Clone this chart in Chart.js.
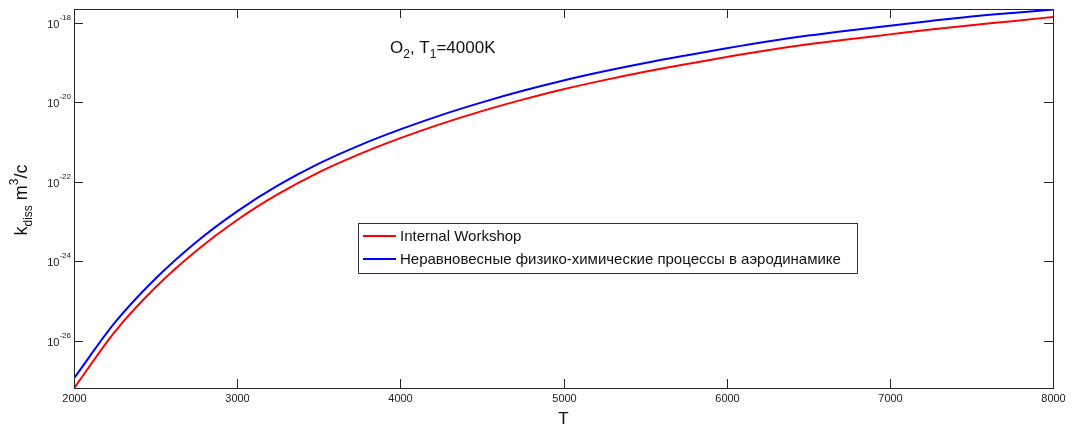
<!DOCTYPE html>
<html>
<head>
<meta charset="utf-8">
<script src="https://cdn.jsdelivr.net/npm/chart.js@4.4.1/dist/chart.umd.min.js"></script>
<style>
  html, body { margin: 0; padding: 0; background: #ffffff; }
  #wrap { width: 1075px; height: 428px; }
</style>
</head>
<body>
<div id="wrap"><canvas id="c" width="1075" height="428"></canvas></div>
<script>
// ---- data ----
const temps = [2000, 2250, 2500, 2750, 3000, 3250, 3500, 3750, 4000, 4250, 4500, 4750, 5000,
               5250, 5500, 5750, 6000, 6250, 6500, 6750, 7000, 7250, 7500, 7750, 8000];
const internalWorkshop = [6.46e-28, 1.70e-26, 2.24e-25, 1.86e-24, 1.10e-23, 4.90e-23, 1.74e-22,
                          5.01e-22, 1.26e-21, 2.88e-21, 6.03e-21, 1.17e-20, 2.14e-20, 3.63e-20,
                          5.89e-20, 9.12e-20, 1.38e-19, 2.04e-19, 2.88e-19, 3.89e-19, 5.13e-19,
                          6.76e-19, 8.71e-19, 1.10e-18, 1.41e-18];
const nonequilibrium = [1.15e-27, 2.88e-26, 3.72e-25, 3.09e-24, 1.82e-23, 8.13e-23, 2.88e-22,
                        8.32e-22, 2.09e-21, 4.79e-21, 1.00e-20, 1.95e-20, 3.55e-20, 6.03e-20,
                        9.77e-20, 1.51e-19, 2.29e-19, 3.39e-19, 4.79e-19, 6.46e-19, 8.51e-19,
                        1.12e-18, 1.45e-18, 1.78e-18, 2.16e-18];
const seriesLabels = ['Internal Workshop', 'Неравновесные физико-химические процессы в аэродинамике'];
const xTicks = [2000, 3000, 4000, 5000, 6000, 7000, 8000];
const yTickExponents = [-18, -20, -22, -24, -26];

const FONT = '"Liberation Sans", Arial, sans-serif';

const decorPlugin = {
  id: 'decor',
  afterDraw(chart) {
    const ctx = chart.ctx;
    const a = chart.chartArea;
    const xs = chart.scales.x, ys = chart.scales.y;
    ctx.save();
    // frame
    ctx.strokeStyle = '#262626';
    ctx.lineWidth = 1;
    ctx.strokeRect(Math.round(a.left) + 0.5, Math.round(a.top) + 0.5,
                   Math.round(a.right - a.left), Math.round(a.bottom - a.top));
    const tl = 9;
    // x ticks
    ctx.fillStyle = '#222';
    ctx.font = '11px ' + FONT;
    ctx.textAlign = 'center';
    ctx.textBaseline = 'middle';
    xTicks.forEach(v => {
      const px = Math.round(xs.getPixelForValue(v)) + 0.5;
      ctx.beginPath();
      ctx.moveTo(px, a.bottom); ctx.lineTo(px, a.bottom - tl);
      ctx.moveTo(px, a.top); ctx.lineTo(px, a.top + tl);
      ctx.stroke();
      ctx.fillText(String(v), px, 399);
    });
    // y ticks
    yTickExponents.forEach(e => {
      const py = Math.round(ys.getPixelForValue(Math.pow(10, e))) + 0.5;
      ctx.beginPath();
      ctx.moveTo(a.left, py); ctx.lineTo(a.left + tl, py);
      ctx.moveTo(a.right, py); ctx.lineTo(a.right - tl, py);
      ctx.stroke();
      const sup = String(e);
      ctx.textAlign = 'right';
      ctx.font = '8px ' + FONT;
      const supW = ctx.measureText(sup).width;
      ctx.textBaseline = 'alphabetic';
      ctx.fillText(sup, 71, py - 4);
      ctx.font = '11px ' + FONT;
      ctx.textBaseline = 'middle';
      ctx.fillText('10', 71 - supW, py + 1);
    });
    // x title
    ctx.textAlign = 'center';
    ctx.textBaseline = 'middle';
    ctx.font = '17px ' + FONT;
    ctx.fillStyle = '#111';
    ctx.fillText('T', (a.left + a.right) / 2, 419);

    // y title (rotated) : k_diss m^3/c
    ctx.save();
    ctx.translate(27, 200);
    ctx.rotate(-Math.PI / 2);
    const parts = [
      {t: 'k', f: 18, dy: 0},
      {t: 'diss', f: 12, dy: 5},
      {t: ' m', f: 18, dy: 0},
      {t: '3', f: 12, dy: -9},
      {t: '/c', f: 18, dy: 0}
    ];
    let total = 0;
    parts.forEach(p => { ctx.font = p.f + 'px ' + FONT; p.w = ctx.measureText(p.t).width; total += p.w; });
    let cx = -total / 2;
    ctx.textAlign = 'left';
    ctx.textBaseline = 'alphabetic';
    parts.forEach(p => { ctx.font = p.f + 'px ' + FONT; ctx.fillText(p.t, cx, 0 + p.dy); cx += p.w; });
    ctx.restore();

    // annotation O2, T1=4000K
    const ann = [
      {t: 'O', f: 17, dy: 0},
      {t: '2', f: 12, dy: 5},
      {t: ', T', f: 17, dy: 0},
      {t: '1', f: 12, dy: 5},
      {t: '=4000K', f: 17, dy: 0}
    ];
    let ax = 390;
    ctx.textAlign = 'left';
    ctx.textBaseline = 'alphabetic';
    ann.forEach(p => { ctx.font = p.f + 'px ' + FONT; ctx.fillText(p.t, ax, 53 + p.dy); ax += ctx.measureText(p.t).width; });

    // legend box
    ctx.fillStyle = '#ffffff';
    ctx.fillRect(358.5, 223.5, 499, 50);
    ctx.strokeStyle = '#333';
    ctx.lineWidth = 1;
    ctx.strokeRect(358.5, 223.5, 499, 50);
    const ds = chart.data.datasets;
    const rows = [236, 259];
    ds.forEach((d, i) => {
      ctx.strokeStyle = d.borderColor;
      ctx.lineWidth = 2;
      ctx.beginPath();
      ctx.moveTo(363, rows[i]); ctx.lineTo(396, rows[i]);
      ctx.stroke();
      ctx.fillStyle = '#111';
      ctx.font = '15px ' + FONT;
      ctx.textBaseline = 'middle';
      ctx.fillText(d.label, 400, rows[i] + 1);
    });
    ctx.restore();
  }
};

new Chart(document.getElementById('c'), {
  type: 'line',
  data: {
    datasets: [
      {
        label: seriesLabels[0],
        data: temps.map((t, i) => ({x: t, y: internalWorkshop[i]})),
        borderColor: '#ff0000',
        borderWidth: 2,
        pointRadius: 0,
        cubicInterpolationMode: 'monotone',
        fill: false
      },
      {
        label: seriesLabels[1],
        data: temps.map((t, i) => ({x: t, y: nonequilibrium[i]})),
        borderColor: '#0000ff',
        borderWidth: 2,
        pointRadius: 0,
        cubicInterpolationMode: 'monotone',
        fill: false
      }
    ]
  },
  options: {
    responsive: false,
    animation: false,
    devicePixelRatio: 1,
    layout: { padding: { left: 74, right: 22, top: 9, bottom: 40 } },
    plugins: { legend: { display: false }, tooltip: { enabled: false } },
    scales: {
      x: { type: 'linear', display: false, min: 2000, max: 8000 },
      y: { type: 'logarithmic', display: false, min: 6.55e-28, max: 2.23e-18 }
    }
  },
  plugins: [decorPlugin]
});
</script>
</body>
</html>
